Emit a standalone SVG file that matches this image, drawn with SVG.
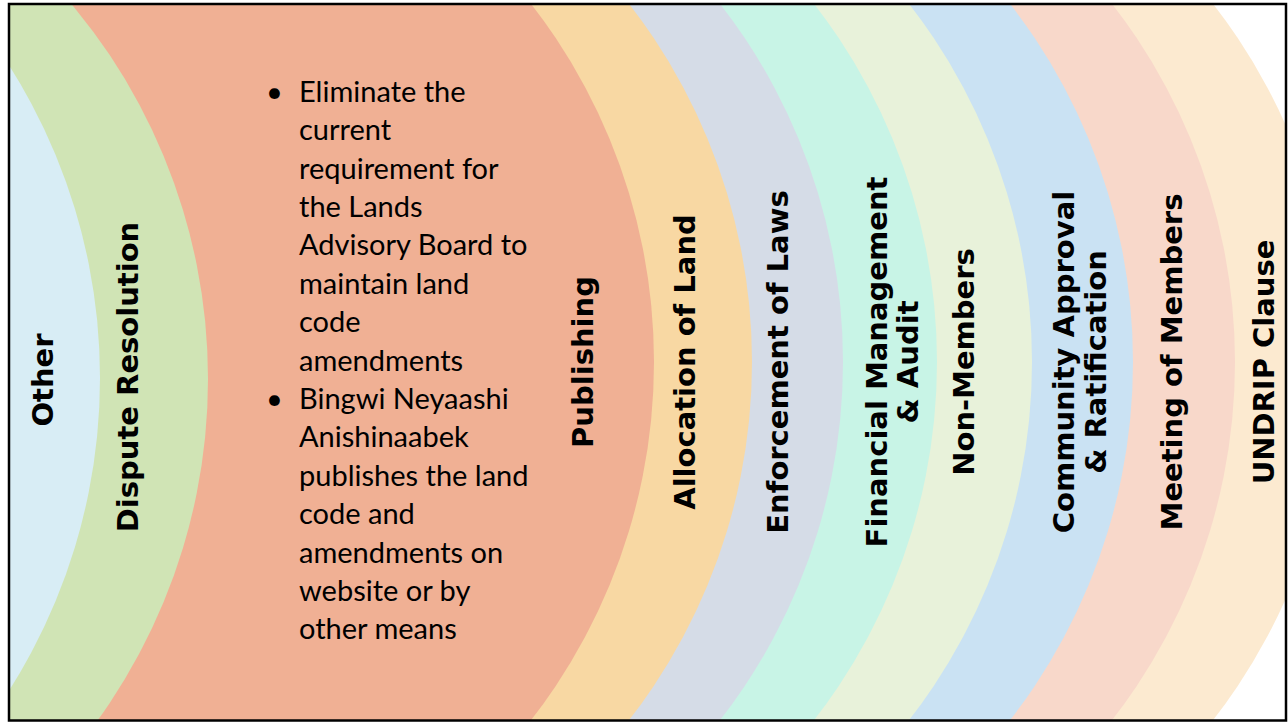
<svg xmlns="http://www.w3.org/2000/svg" width="1288" height="723" viewBox="0 0 1288 723">
  <defs>
    <clipPath id="frameClip">
      <rect x="9" y="4" width="1277" height="716.5"/>
    </clipPath>
  </defs>
  <style>
    .lbl { font-family: "DejaVu Sans", Verdana, sans-serif; font-weight: bold; font-size: 29px; fill: #000; text-anchor: middle; }
    .body { font-family: Lato, "Open Sans", sans-serif; font-size: 29px; fill: #000; }
    .frame { fill: none; stroke: #000; stroke-width: 2.5; }
  </style>
  <rect x="0" y="0" width="1288" height="723" fill="#ffffff"/>
  <g clip-path="url(#frameClip)">
    <g id="undrip-clause">
      <circle cx="753" cy="362" r="583" fill="#FCEAD0"/>
      <text class="lbl" transform="translate(1274,362) rotate(-90)">UNDRIP Clause</text>
    </g>
    <g id="meeting-of-members">
      <circle cx="652" cy="362" r="583" fill="#F8D8CA"/>
      <text class="lbl" transform="translate(1182,362) rotate(-90)">Meeting of Members</text>
    </g>
    <g id="community-approval">
      <circle cx="550" cy="362" r="583" fill="#CAE2F3"/>
      <text class="lbl" transform="translate(1074,362) rotate(-90)">Community Approval</text>
      <text class="lbl" transform="translate(1106,362) rotate(-90)">&amp; Ratification</text>
    </g>
    <g id="non-members">
      <circle cx="449" cy="362" r="583" fill="#E8F2DA"/>
      <text class="lbl" transform="translate(974,362) rotate(-90)">Non-Members</text>
    </g>
    <g id="financial-management">
      <circle cx="354" cy="362" r="583" fill="#C8F4E6"/>
      <text class="lbl" transform="translate(887,362) rotate(-90)">Financial Management</text>
      <text class="lbl" transform="translate(918,362) rotate(-90)">&amp; Audit</text>
    </g>
    <g id="enforcement-of-laws">
      <circle cx="260" cy="362" r="583" fill="#D5DCE7"/>
      <text class="lbl" transform="translate(788,362) rotate(-90)">Enforcement of Laws</text>
    </g>
    <g id="allocation-of-land">
      <circle cx="169" cy="362" r="583" fill="#F8D8A3"/>
      <text class="lbl" transform="translate(695,362) rotate(-90)">Allocation of Land</text>
    </g>
    <g id="publishing">
      <circle cx="71" cy="362" r="583" fill="#F0B094"/>
      <text class="lbl" transform="translate(593,362) rotate(-90)">Publishing</text>
      <g class="body">
        <text x="266" y="101.7">•</text>
        <text x="299" y="101.7">Eliminate the</text>
        <text x="299" y="140.1">current</text>
        <text x="299" y="178.5">requirement for</text>
        <text x="299" y="216.9">the Lands</text>
        <text x="299" y="255.3">Advisory Board to</text>
        <text x="299" y="293.7">maintain land</text>
        <text x="299" y="332.1">code</text>
        <text x="299" y="370.5">amendments</text>
        <text x="266" y="408.9">•</text>
        <text x="299" y="408.9">Bingwi Neyaashi</text>
        <text x="299" y="447.3">Anishinaabek</text>
        <text x="299" y="485.7">publishes the land</text>
        <text x="299" y="524.1">code and</text>
        <text x="299" y="562.5">amendments on</text>
        <text x="299" y="600.9">website or by</text>
        <text x="299" y="639.3">other means</text>
      </g>
    </g>
    <g id="dispute-resolution">
      <circle cx="-375" cy="379" r="583" fill="#D0E4B5"/>
      <text class="lbl" transform="translate(138,377) rotate(-90)">Dispute Resolution</text>
    </g>
    <g id="other">
      <circle cx="-483" cy="378" r="583" fill="#D8EDF5"/>
      <text class="lbl" transform="translate(53,380) rotate(-90)">Other</text>
    </g>
  </g>
  <g id="connectors"></g>
  <rect class="frame" x="9" y="4" width="1277" height="716.5"/>
</svg>
